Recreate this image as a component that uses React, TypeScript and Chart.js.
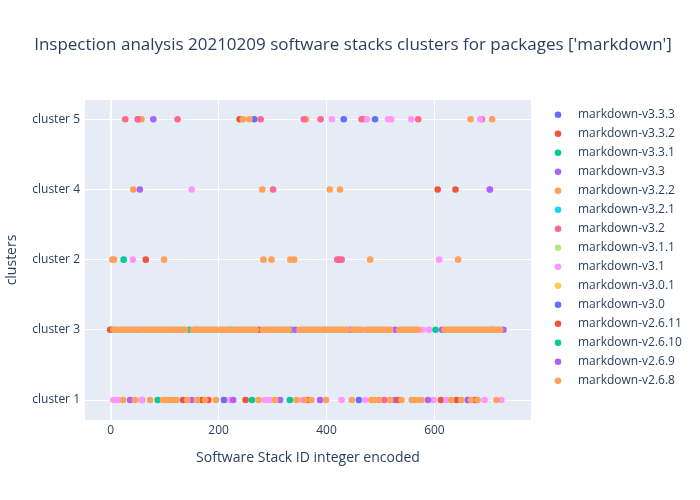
import React, { useEffect, useRef } from 'react';
import { Chart, registerables } from 'chart.js';

Chart.register(...registerables);

const TITLE = "Inspection analysis 20210209 software stacks clusters for packages ['markdown']";
const X_TITLE = 'Software Stack ID integer encoded';
const Y_TITLE = 'clusters';

// categories from bottom to top
const clusters = ['cluster 1', 'cluster 3', 'cluster 2', 'cluster 4', 'cluster 5'];
const xTicks = [0, 200, 400, 600];

const seriesNames = [
  'markdown-v3.3.3', 'markdown-v3.3.2', 'markdown-v3.3.1', 'markdown-v3.3', 'markdown-v3.2.2',
  'markdown-v3.2.1', 'markdown-v3.2', 'markdown-v3.1.1', 'markdown-v3.1', 'markdown-v3.0.1',
  'markdown-v3.0', 'markdown-v2.6.11', 'markdown-v2.6.10', 'markdown-v2.6.9', 'markdown-v2.6.8',
];
const seriesColors = [
  '#636efa', '#EF553B', '#00cc96', '#ab63fa', '#FFA15A',
  '#19d3f3', '#FF6692', '#B6E880', '#FF97FF', '#FECB52',
  '#636efa', '#EF553B', '#00cc96', '#ab63fa', '#FFA15A',
];

type P = [number, string];

const v3_3_3: P[] = [[266, 'cluster 5'], [432, 'cluster 5'], [210, 'cluster 1'], [460, 'cluster 1']];
const v3_3_2: P[] = [[239, 'cluster 5'], [606, 'cluster 4'], [639, 'cluster 4'], [134, 'cluster 1'], [250, 'cluster 1'], [612, 'cluster 1']];
const v3_3_1: P[] = [[24, 'cluster 2'], [2, 'cluster 3'], [87, 'cluster 1'], [262, 'cluster 1']];
const v3_3: P[] = [[51, 'cluster 5'], [79, 'cluster 5'], [54, 'cluster 4'], [36, 'cluster 1'], [150, 'cluster 1'], [527, 'cluster 1']];
const v3_2_2: P[] = [
  [57, 'cluster 5'], [245, 'cluster 5'], [257, 'cluster 5'], [362, 'cluster 5'], [470, 'cluster 5'], [667, 'cluster 5'], [707, 'cluster 5'],
  [42, 'cluster 4'], [281, 'cluster 4'], [406, 'cluster 4'], [425, 'cluster 4'],
  [3, 'cluster 2'], [6, 'cluster 2'], [99, 'cluster 2'], [283, 'cluster 2'], [298, 'cluster 2'], [333, 'cluster 2'], [340, 'cluster 2'], [481, 'cluster 2'], [644, 'cluster 2'],
];
const v3_2_1: P[] = [[160, 'cluster 3'], [398, 'cluster 3']];
const v3_2: P[] = [
  [27, 'cluster 5'], [50, 'cluster 5'], [124, 'cluster 5'], [278, 'cluster 5'], [358, 'cluster 5'], [389, 'cluster 5'], [465, 'cluster 5'], [570, 'cluster 5'], [688, 'cluster 5'],
  [301, 'cluster 4'], [420, 'cluster 2'], [424, 'cluster 2'], [428, 'cluster 2'],
  [58, 'cluster 1'], [507, 'cluster 1'],
];
const v3_1_1: P[] = [[216, 'cluster 3'], [659, 'cluster 3']];
const v3_1: P[] = [
  [410, 'cluster 5'], [475, 'cluster 5'], [514, 'cluster 5'], [520, 'cluster 5'], [557, 'cluster 5'], [685, 'cluster 5'],
  [150, 'cluster 4'], [702, 'cluster 4'], [41, 'cluster 2'], [609, 'cluster 2'],
  [469, 'cluster 3'], [578, 'cluster 3'], [590, 'cluster 3'],
  [5, 'cluster 1'], [10, 'cluster 1'], [14, 'cluster 1'], [57, 'cluster 1'], [221, 'cluster 1'], [286, 'cluster 1'], [291, 'cluster 1'],
  [296, 'cluster 1'], [355, 'cluster 1'], [428, 'cluster 1'], [471, 'cluster 1'], [598, 'cluster 1'], [622, 'cluster 1'], [693, 'cluster 1'], [724, 'cluster 1'],
];
const v3_0_1: P[] = [[100, 'cluster 3'], [306, 'cluster 3']];
const v3_0: P[] = [[490, 'cluster 5'], [662, 'cluster 1'], [679, 'cluster 1']];
const v2_6_11: P[] = [
  [65, 'cluster 2'], [-1, 'cluster 3'], [275, 'cluster 3'],
  [169, 'cluster 1'], [181, 'cluster 1'], [366, 'cluster 1'], [533, 'cluster 1'], [641, 'cluster 1'], [674, 'cluster 1'],
];
const v2_6_10: P[] = [
  [146, 'cluster 3'], [224, 'cluster 3'], [334, 'cluster 3'], [602, 'cluster 3'], [706, 'cluster 3'],
  [332, 'cluster 1'],
];
const v2_6_9: P[] = [
  [703, 'cluster 4'],
  [47, 'cluster 3'], [342, 'cluster 3'], [444, 'cluster 3'], [527, 'cluster 3'], [614, 'cluster 3'], [728, 'cluster 3'],
  [227, 'cluster 1'], [314, 'cluster 1'], [388, 'cluster 1'], [588, 'cluster 1'], [662, 'cluster 1'],
];
const v2_6_8_cluster3 = [
  5, 8, 12, 16, 20, 24, 28, 32, 36, 40, 44, 52, 56, 60, 64, 68, 72, 76, 80, 84, 88, 92, 96,
  100, 104, 108, 112, 116, 120, 124, 128, 132, 135, 138,
  152, 156, 160, 164, 168, 172, 176, 180, 184, 188, 192, 196, 200, 204, 208, 212, 216, 221,
  229, 233, 237, 241, 245, 249, 253, 257, 261, 265, 269,
  282, 286, 290, 294, 298, 302, 306, 310, 314, 318, 322, 326, 330,
  350, 354, 358, 362, 366, 370, 374, 378, 382, 386, 390, 394, 398, 402, 406, 410, 414, 418,
  422, 426, 430, 434, 438, 449, 453, 456, 460, 463, 474, 478, 482, 486, 490, 494, 498, 502, 506, 510, 514, 518,
  535, 539, 543, 547, 551, 555, 559, 563, 567, 570,
  619, 623, 627, 631, 635, 639, 643, 647, 651, 655, 659, 663, 667, 671, 675, 679, 683, 687, 691, 695, 699, 703, 707, 711, 715, 719, 722,
];
const v2_6_8_cluster1 = [
  23, 45, 73, 97, 103, 109, 115, 122, 142, 160, 175, 195, 274, 305, 344, 360, 372, 399,
  447, 483, 490, 497, 518, 539, 558, 564, 570, 576, 631, 650, 668, 680, 715,
];
const v2_6_8: P[] = [
  ...v2_6_8_cluster3.map((x): P => [x, 'cluster 3']),
  ...v2_6_8_cluster1.map((x): P => [x, 'cluster 1']),
];

const seriesPoints: P[][] = [
  v3_3_3, v3_3_2, v3_3_1, v3_3, v3_2_2, v3_2_1, v3_2, v3_1_1, v3_1, v3_0_1, v3_0, v2_6_11, v2_6_10, v2_6_9, v2_6_8,
];

const TEXT = '#2a3f5f';
const FONT = "'Open Sans', verdana, arial, sans-serif";

export default function App() {
  const ref = useRef<HTMLCanvasElement | null>(null);

  useEffect(() => {
    if (!ref.current) return;
    const datasets = seriesNames.map((name, i) => ({
      label: name,
      data: seriesPoints[i].map(([x, c]) => ({ x, y: clusters.indexOf(c) })),
      backgroundColor: seriesColors[i],
      borderWidth: 0,
      pointRadius: 3.3,
      pointHoverRadius: 3.3,
      order: -i,
    }));

    const decor = {
      id: 'decor',
      beforeDraw(chart: any) {
        const { ctx, chartArea: a } = chart;
        ctx.save();
        ctx.fillStyle = '#E5ECF6';
        ctx.fillRect(a.left, a.top, a.right - a.left, a.bottom - a.top);
        ctx.restore();
      },
      afterDraw(chart: any) {
        const { ctx } = chart;
        ctx.save();
        ctx.fillStyle = TEXT;
        ctx.textBaseline = 'middle';
        ctx.textAlign = 'center';
        ctx.font = `17px ${FONT}`;
        ctx.fillText(TITLE, 353, 45);
        ctx.font = `12px ${FONT}`;
        ctx.textAlign = 'left';
        seriesNames.forEach((name, i) => {
          const y = 114.7 + i * 19;
          ctx.fillStyle = seriesColors[i];
          ctx.beginPath();
          ctx.arc(558, y, 3.3, 0, Math.PI * 2);
          ctx.fill();
          ctx.fillStyle = TEXT;
          ctx.fillText(name, 578, y);
        });
        ctx.restore();
      },
    };

    const chart = new Chart(ref.current, {
      type: 'scatter',
      data: { datasets },
      plugins: [decor],
      options: {
        animation: false,
        responsive: false,
        layout: { padding: { top: 100, right: 169, left: 0, bottom: 0 } },
        plugins: {
          legend: { display: false },
          title: { display: false },
          tooltip: { enabled: false },
        },
        scales: {
          x: {
            type: 'linear',
            min: -47.6,
            max: 779,
            afterFit: (s: any) => { s.height = 80; },
            afterBuildTicks: (s: any) => { s.ticks = xTicks.map((v) => ({ value: v })); },
            grid: {
              color: '#ffffff',
              lineWidth: (c: any) => (c.tick && c.tick.value === 0 ? 2 : 1),
              drawTicks: false,
            },
            border: { display: false },
            ticks: { color: TEXT, font: { size: 12, family: FONT }, padding: 3, maxRotation: 0 },
            title: {
              display: true,
              text: X_TITLE,
              color: TEXT,
              font: { size: 14, family: FONT },
              padding: { top: 0, bottom: 34 },
            },
          },
          y: {
            type: 'linear',
            min: -0.285,
            max: 4.275,
            afterFit: (s: any) => { s.width = 85; },
            afterBuildTicks: (s: any) => { s.ticks = clusters.map((_, i) => ({ value: i })); },
            grid: { color: '#ffffff', lineWidth: 1, drawTicks: false },
            border: { display: false },
            ticks: {
              color: TEXT,
              font: { size: 12, family: FONT },
              padding: 5,
              callback: (v: any) => clusters[Number(v)] ?? '',
            },
            title: {
              display: true,
              text: Y_TITLE,
              color: TEXT,
              font: { size: 14, family: FONT },
              padding: { top: 4, bottom: 0 },
            },
          },
        },
      },
    } as any);
    return () => chart.destroy();
  }, []);

  return (
    <div style={{ position: 'absolute', left: 0, top: 0, width: 700, height: 500, background: '#ffffff' }}>
      <canvas ref={ref} width={700} height={500} />
    </div>
  );
}
